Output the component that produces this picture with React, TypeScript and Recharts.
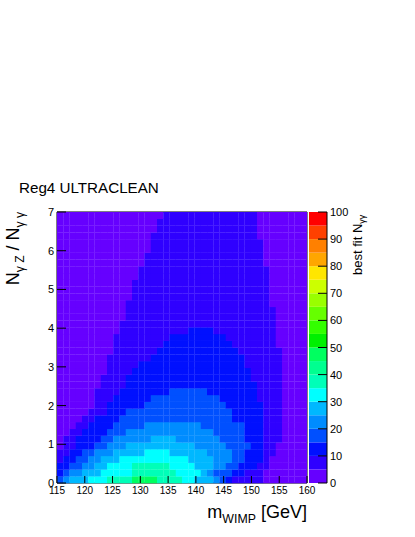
import { Bar, BarChart, Scatter, ScatterChart, XAxis, YAxis } from "recharts"

// best fit per row of the 40 x 40 grid, bottom row first, as "value*bins"
const bestFitRuns = [
  "17 22 27*3 32*3 37*4 47*4 37*4 32*2 27*3 22 17 12 7*5 2*7",
  "12 17 22*2 27*3 32*5 37*7 32*4 27 22 17*3 12*2 7*3 2*7",
  "12*2 17*2 22*2 27*2 32*4 37*6 32*4 27*3 22*2 17*2 12*3 7*2 2*6",
  "7 12*2 17*2 22*2 27*3 32*11 27*4 22*3 17*2 12*3 7 2*6",
  "7*2 12*2 17*2 22*3 27*5 32*4 27*6 22*4 17*2 12*3 7*2 2*5",
  "2 7*2 12*3 17*2 22*3 27*11 22*5 17*4 12*2 7*2 2*5",
  "2 7*2 12*4 17*2 22*6 27*4 22*7 17*4 12*3 7*3 2*4",
  "2*2 7*2 12*4 17*3 22*14 17*5 12*3 7*3 2*4",
  "2*3 7*2 12*4 17*5 22*9 17*7 12*3 7*3 2*4",
  "2*4 7*2 12*4 17*18 12*5 7*3 2*4",
  "2*5 7*3 12*3 17*17 12*5 7*3 2*4",
  "2*6 7*2 12*6 17*13 12*6 7*3 2*4",
  "2*6 7*3 12*6 17*11 12*6 7*4 2*4",
  "2*6 7*4 12*8 17*6 12*8 7*4 2*4",
  "2*7 7*4 12*21 7*4 2*4",
  "2*7 7*4 12*20 7*5 2*4",
  "2*8 7*4 12*19 7*5 2*4",
  "2*8 7*5 12*17 7*6 2*4",
  "2*8 7*7 12*15 7*6 2*4",
  "2*9 7*7 12*13 7*7 2*4",
  "2*9 7*8 12*11 7*7 2*5",
  "2*9 7*9 12*9 7*8 2*5",
  "2*10 7*11 12*4 7*10 2*5",
  "2*10 7*25 2*5",
  "2*11 7*24 2*5",
  "2*11 7*24 2*5",
  "2*11 7*23 2*6",
  "2*12 7*22 2*6",
  "2*12 7*22 2*6",
  "2*12 7*22 2*6",
  "2*13 7*21 2*6",
  "2*13 7*21 2*6",
  "2*14 7*19 2*7",
  "2*14 7*19 2*7",
  "2*15 7*18 2*7",
  "2*15 7*18 2*7",
  "2*15 7*17 2*8",
  "2*16 7*16 2*8",
  "2*16 7*16 2*8",
  "2*17 7*15 2*8",
]

const massTicks = [115, 120, 125, 130, 135, 140, 145, 150, 155, 160]
const ratioTicks = [0, 1, 2, 3, 4, 5, 6, 7]
const zTicks = [0, 10, 20, 30, 40, 50, 60, 70, 80, 90, 100]
const levelColors = [
  "#6600ff", "#2f00ff", "#0010ff", "#0050ff", "#008cff",
  "#00b8ff", "#00ffff", "#00ffb8", "#00ff90", "#00ff60",
  "#00f000", "#33ff00", "#66ff00", "#99ff00", "#ccff00",
  "#ffe600", "#ffa600", "#ff8000", "#ff4000", "#ff0000",
]

const W = 415
const H = 537
const PLOT = { left: 57, top: 212, right: 307, bottom: 483 }
const BINS = 40
const OVERLAP = 0.25
const FONT = "'Liberation Sans', Arial, sans-serif"

const cellW = (PLOT.right - PLOT.left) / BINS
const cellH = (PLOT.bottom - PLOT.top) / BINS

const cells = bestFitRuns.flatMap((row, r) => {
  const out: { m: number; ratio: number; fit: number }[] = []
  let col = 0
  row.split(" ").forEach((run) => {
    const [v, n] = run.split("*")
    for (let i = 0; i < Number(n ?? 1); i++) {
      out.push({ m: 115 + ((col + 0.5) * 45) / BINS, ratio: ((r + 0.5) * 7) / BINS, fit: Number(v) })
      col++
    }
  })
  return out
})

const barData = [Object.fromEntries(levelColors.map((_, i) => [`l${i}`, 5]))]

const colorOf = (fit: number) => levelColors[Math.min(19, Math.floor(fit / 5))]

const HeatCell = (props: any) => (
  <rect
    x={props.cx - cellW / 2}
    y={props.cy - cellH / 2}
    width={Math.min(cellW + OVERLAP, PLOT.right - props.cx + cellW / 2)}
    height={cellH + OVERLAP}
    fill={colorOf(props.payload.fit)}
  />
)

const bottomTick = ({ x, y, payload }: any) => (
  <g>
    <line x1={x} x2={x} y1={y} y2={y - 7} stroke="#000" />
    <text x={x} y={y + 11} textAnchor="middle" fontSize={10} fontFamily={FONT} fill="#000">
      {payload.value}
    </text>
  </g>
)
const topTick = ({ x, y }: any) => <line x1={x} x2={x} y1={y} y2={y + 7} stroke="#000" />
const leftTick = ({ x, y, payload }: any) => (
  <g>
    <line x1={x} x2={x + 9} y1={y} y2={y} stroke="#000" />
    <text x={x - 3} y={y + 4} textAnchor="end" fontSize={11} fontFamily={FONT} fill="#000">
      {payload.value}
    </text>
  </g>
)
const rightTick = ({ x, y }: any) => <line x1={x} x2={x - 9} y1={y} y2={y} stroke="#000" />
const zTick = ({ x, y, payload }: any) => (
  <g>
    <line x1={x} x2={x - 9} y1={y} y2={y} stroke="#000" />
    <text x={x + 3} y={y + 4} fontSize={11} fontFamily={FONT} fill="#000">
      {payload.value}
    </text>
  </g>
)

const layer = { position: "absolute", left: 0, top: 0 } as const
const axisBase = { interval: 0, tickSize: 0, tickMargin: 0, tickLine: false, axisLine: { stroke: "#000" } } as const

const App = () => {
  // the four 1px axis bands take their room out of the margins
  const margin = { left: PLOT.left - 1, top: PLOT.top - 1, right: W - PLOT.right - 1, bottom: H - PLOT.bottom - 1 }
  return (
    <div style={{ position: "absolute", left: 0, top: 0, width: W, height: H, background: "#fff" }}>
      <div style={layer}>
        <ScatterChart width={W} height={H} margin={margin}>
          <Scatter data={cells} dataKey="fit" shape={HeatCell} isAnimationActive={false} />
          <XAxis {...axisBase} type="number" dataKey="m" domain={[115, 160]} ticks={massTicks} height={1} tick={bottomTick} />
          <YAxis {...axisBase} type="number" dataKey="ratio" domain={[0, 7]} ticks={ratioTicks} width={1} tick={leftTick} />
          <XAxis {...axisBase} xAxisId="top" orientation="top" type="number" domain={[115, 160]} ticks={massTicks} height={1} tick={topTick} />
          <YAxis {...axisBase} yAxisId="right" orientation="right" type="number" domain={[0, 7]} ticks={ratioTicks} width={1} tick={rightTick} />
        </ScatterChart>
      </div>
      <div style={layer}>
        <BarChart
          width={W}
          height={H}
          data={barData}
          margin={{ left: 309, top: PLOT.top, right: W - 327 - 1, bottom: H - PLOT.bottom }}
          barCategoryGap={0}
        >
          <XAxis hide />
          <YAxis {...axisBase} orientation="right" type="number" domain={[0, 100]} ticks={zTicks} width={1} tick={zTick} />
          {levelColors.map((c, i) => (
            <Bar key={c} dataKey={`l${i}`} stackId="z" fill={c} isAnimationActive={false} />
          ))}
        </BarChart>
      </div>
      <svg width={W} height={H} style={layer} fontFamily={FONT}>
        <text x={19} y={193} fontSize={15.2}>Reg4 ULTRACLEAN</text>
        <text transform="translate(307,518) scale(0.95,1)" fontSize={19} textAnchor="end">
          m<tspan fontSize={13} dy={5}>WIMP</tspan>
          <tspan dy={-5}> [GeV]</tspan>
        </text>
        <text transform="translate(19,212) rotate(-90) scale(0.94,1)" fontSize={19} textAnchor="end">
          N<tspan fontSize={13} dy={5}>γ Z</tspan>
          <tspan dy={-5}> / N</tspan>
          <tspan fontSize={13} dy={5}>γ γ</tspan>
        </text>
        <text transform="translate(362,275) rotate(-90)" fontSize={13}>
          best fit N<tspan fontSize={9} dy={3}>γγ</tspan>
        </text>
      </svg>
    </div>
  )
}

export default App
